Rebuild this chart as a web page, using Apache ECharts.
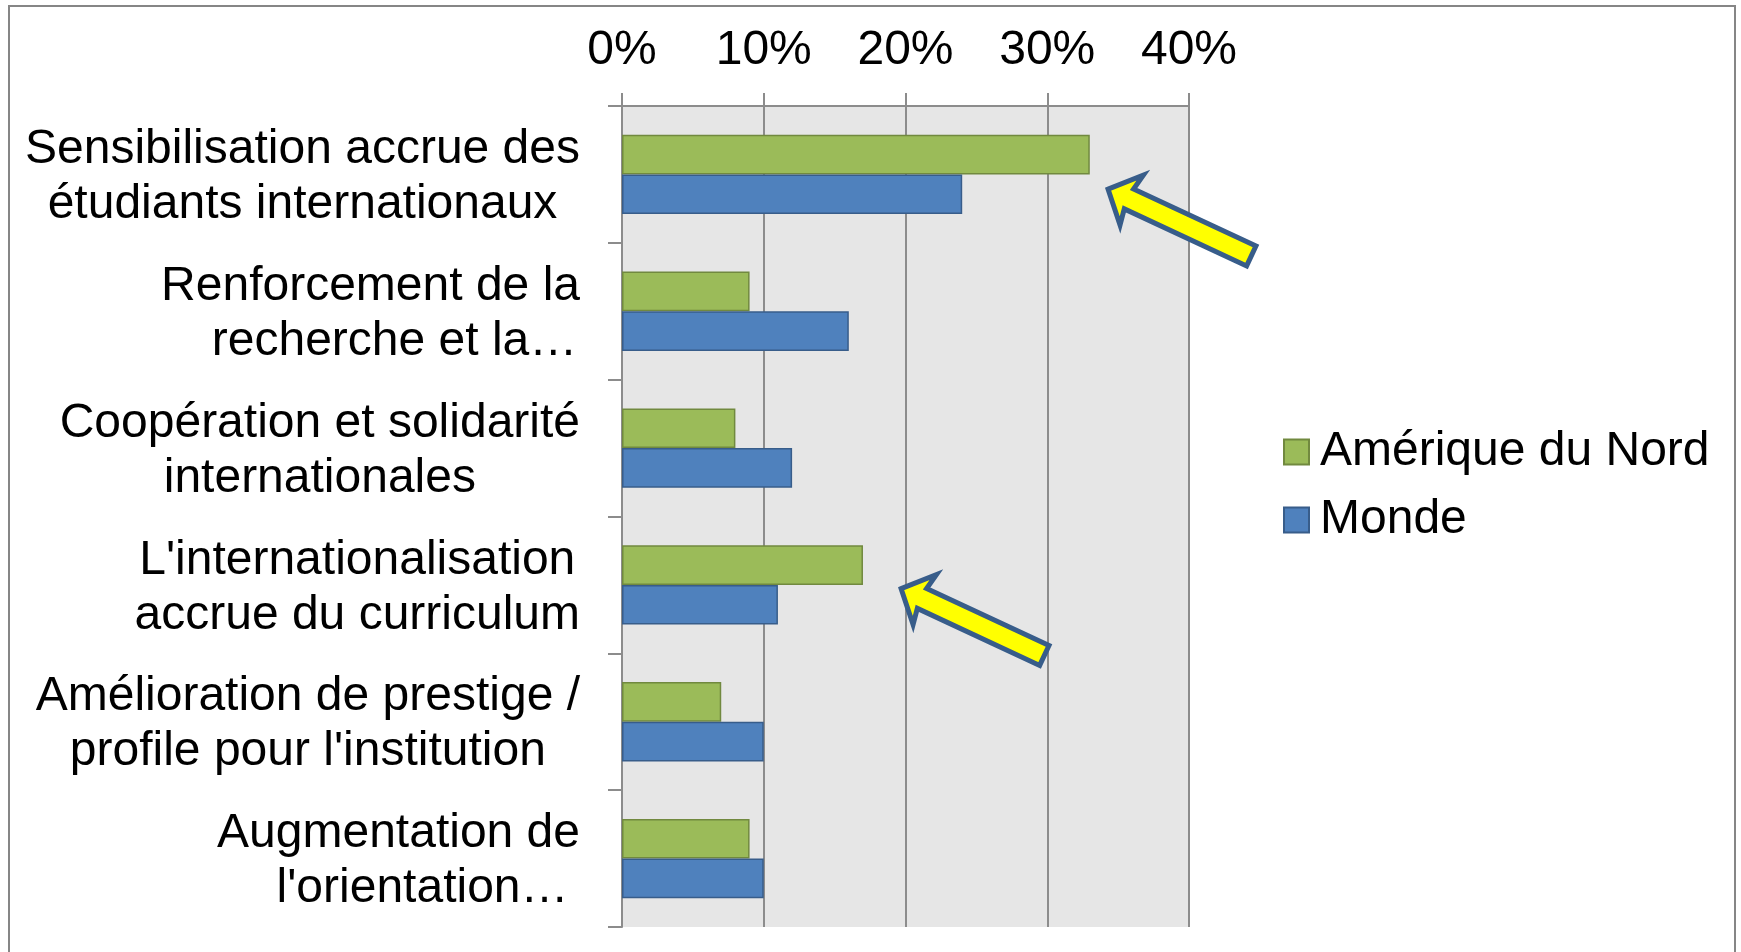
<!DOCTYPE html>
<html>
<head>
<meta charset="utf-8">
<script src="https://cdn.jsdelivr.net/npm/echarts@6/dist/echarts.min.js"></script>
<style>
html,body{margin:0;padding:0;background:#fff;}
#chart{width:1741px;height:952px;}
</style>
</head>
<body>
<div id="chart"></div>
<script>
const categories = [
  "Sensibilisation accrue des\nétudiants internationaux",
  "Renforcement de la\nrecherche et la…",
  "Coopération et solidarité\ninternationales",
  "L'internationalisation\naccrue du curriculum",
  "Amélioration de prestige /\nprofile pour l'institution",
  "Augmentation de\nl'orientation…"
];
const seriesNames = ["Amérique du Nord", "Monde"];
const northAmerica = [33, 9, 8, 17, 7, 9];
const world = [24, 16, 12, 11, 10, 10];
const xTicks = [0, 10, 20, 30, 40];

const FONT = '"Liberation Sans", Arial, Helvetica, sans-serif';
const GRID_COLOR = '#8C8C8C';
const FS = 48;

const chart = echarts.init(document.getElementById('chart'));
const option = {
  animation: false,
  backgroundColor: '#ffffff',
  textStyle: { fontFamily: FONT, color: '#000' },
  grid: {
    left: 622, right: 552, top: 106, bottom: 25,
    show: true, backgroundColor: '#E6E6E6', borderWidth: 0
  },
  legend: {
    orient: 'vertical',
    left: 1278, top: 423,
    itemWidth: 25, itemHeight: 25, itemGap: 20,
    icon: 'rect',
    textStyle: { fontSize: FS, fontFamily: FONT, color: '#000', lineHeight: 48, padding: [0, 0, 0, 6] },
    data: seriesNames
  },
  xAxis: {
    type: 'value',
    position: 'top',
    min: xTicks[0], max: xTicks[xTicks.length - 1], interval: 10,
    axisLine: { show: true, lineStyle: { color: GRID_COLOR, width: 2 } },
    axisTick: { show: true, length: 13, lineStyle: { color: GRID_COLOR, width: 2 } },
    splitLine: { show: true, lineStyle: { color: GRID_COLOR, width: 2 } },
    axisLabel: {
      margin: 31, fontSize: FS, fontFamily: FONT, color: '#000', lineHeight: 48,
      formatter: v => v + '%'
    }
  },
  yAxis: {
    type: 'category',
    inverse: true,
    data: categories,
    axisLine: { show: true, lineStyle: { color: GRID_COLOR, width: 2 } },
    axisTick: { show: true, length: 14, lineStyle: { color: GRID_COLOR, width: 2 } },
    splitLine: { show: false },
    axisLabel: {
      margin: 42, color: '#000', padding: [6, 0, 0, 0],
      formatter: v => v.split('\n').map(l => (l.endsWith('…') ? '{t|' : '{c|') + l + '}').join('\n'),
      rich: {
        c: { align: 'center', fontSize: FS, lineHeight: 55, fontFamily: FONT, color: '#000' },
        t: { align: 'center', fontSize: FS, lineHeight: 55, fontFamily: FONT, color: '#000', padding: [0, 0, 0, 48] }
      }
    }
  },
  series: [
    {
      name: seriesNames[0], type: 'bar', data: northAmerica,
      barGap: '0%', barCategoryGap: '42%',
      itemStyle: { color: '#9BBB59', borderColor: '#71893F', borderWidth: 1.5 }
    },
    {
      name: seriesNames[1], type: 'bar', data: world,
      barGap: '0%', barCategoryGap: '42%',
      itemStyle: { color: '#4F81BD', borderColor: '#385D8A', borderWidth: 1.5 }
    }
  ]
};
chart.setOption(option);

// Annotation arrows anchored to data coordinates
function arrowPoints(tx, ty, angleDeg) {
  const t = angleDeg * Math.PI / 180, c = Math.cos(t), s = Math.sin(t);
  const local = [[3, 0], [29, -27.5], [26, -11], [161, -11], [161, 11], [26, 11], [29, 27.5]];
  return local.map(([u, v]) => [tx + u * c - v * s, ty + u * s + v * c]);
}
const anchors = [
  { value: [34.1, 0], dy: 13.5 },
  { value: [19.5, 3], dy: 2.5 }
];
const graphics = [{
  type: 'rect', silent: true, z: 100,
  shape: { x: 9, y: 6, width: 1726, height: 980 },
  style: { fill: 'none', stroke: '#868686', lineWidth: 2 }
}];
anchors.forEach(a => {
  const p = chart.convertToPixel({ gridIndex: 0 }, a.value);
  graphics.push({
    type: 'polygon', z: 100, silent: true,
    shape: { points: arrowPoints(p[0], p[1] + a.dy, 25) },
    style: { fill: '#FFFF00', stroke: '#385D8A', lineWidth: 5, lineJoin: 'miter' }
  });
});
chart.setOption({ graphic: graphics });
</script>
</body>
</html>
